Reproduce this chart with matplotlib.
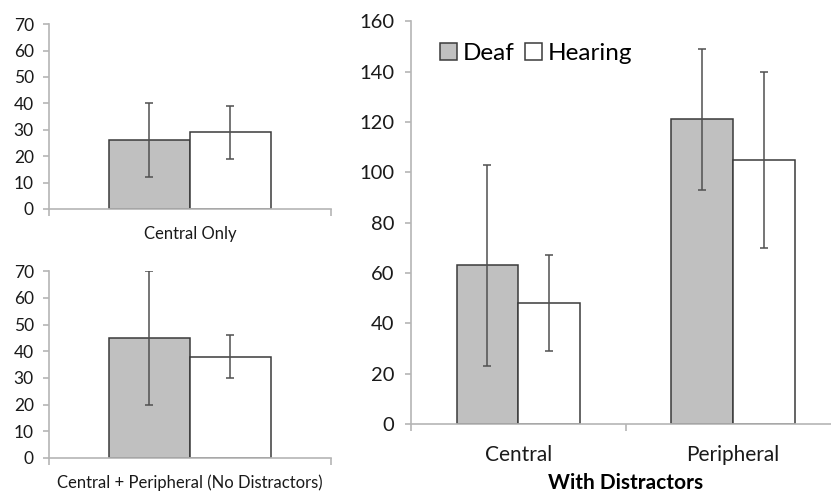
import matplotlib.pyplot as plt
import numpy as np

plt.rcParams['font.family'] = ['Lato', 'DejaVu Sans']

groups = ["Deaf", "Hearing"]
deaf_color = "#c0c0c0"
hear_color = "#ffffff"

# small panels
central_only = [26, 29]
central_only_err = [14, 10]
central_periph = [45, 38]
central_periph_err = [25, 8]

# big panel
distr_cats = ["Central", "Peripheral"]
distr_deaf = [63, 121]
distr_deaf_err = [40, 28]
distr_hear = [48, 105]
distr_hear_err = [19, 35]

edge = "#3a3a3a"
axis_col = "#b5b5b5"
err_kw = dict(ecolor="#505050", elinewidth=1.1, capsize=3, capthick=1.1)
bw = 0.288


def style(ax, tick_size, pad):
    for s in ["top", "right"]:
        ax.spines[s].set_visible(False)
    for s in ["left", "bottom"]:
        ax.spines[s].set_color(axis_col)
        ax.spines[s].set_linewidth(1.2)
    ax.tick_params(axis="y", colors=axis_col, labelcolor="#1a1a1a",
                   labelsize=tick_size, length=4, width=1.2, pad=pad)
    ax.tick_params(axis="x", which="major", length=0, labelcolor="#1a1a1a")
    ax.tick_params(axis="x", which="minor", colors=axis_col, length=5, width=1.2)


fig = plt.figure(figsize=(8.31, 4.94), dpi=100)

# top-left
ax1 = fig.add_axes([0.059, 0.577, 0.339, 0.374])
ax1.bar(-bw / 2, central_only[0], bw, yerr=central_only_err[0], color=deaf_color,
        edgecolor=edge, linewidth=1.1, error_kw=err_kw)
ax1.bar(bw / 2, central_only[1], bw, yerr=central_only_err[1], color=hear_color,
        edgecolor=edge, linewidth=1.1, error_kw=err_kw)
ax1.set_xlim(-0.5, 0.5)
ax1.set_ylim(0, 70)
ax1.set_yticks(np.arange(0, 71, 10))
ax1.set_xticks([0])
ax1.set_xticklabels(["Central Only"], fontsize=12)
ax1.set_xticks([-0.5, 0.5], minor=True)
style(ax1, 12.5, 7)
ax1.tick_params(axis="x", which="major", pad=12)

# bottom-left
ax2 = fig.add_axes([0.059, 0.073, 0.339, 0.378])
ax2.bar(-bw / 2, central_periph[0], bw, yerr=central_periph_err[0], color=deaf_color,
        edgecolor=edge, linewidth=1.1, error_kw=err_kw)
ax2.bar(bw / 2, central_periph[1], bw, yerr=central_periph_err[1], color=hear_color,
        edgecolor=edge, linewidth=1.1, error_kw=err_kw)
ax2.set_xlim(-0.5, 0.5)
ax2.set_ylim(0, 70)
ax2.set_yticks(np.arange(0, 71, 10))
ax2.set_xticks([0])
ax2.set_xticklabels(["Central + Peripheral (No Distractors)"], fontsize=12)
ax2.set_xticks([-0.5, 0.5], minor=True)
style(ax2, 12.5, 7)
ax2.tick_params(axis="x", which="major", pad=12)

# right panel
ax3 = fig.add_axes([0.4946, 0.142, 0.517, 0.815])
x = np.arange(len(distr_cats))
ax3.bar(x - bw / 2, distr_deaf, bw, yerr=distr_deaf_err, color=deaf_color,
        edgecolor=edge, linewidth=1.1, error_kw=err_kw, label=groups[0])
ax3.bar(x + bw / 2, distr_hear, bw, yerr=distr_hear_err, color=hear_color,
        edgecolor=edge, linewidth=1.1, error_kw=err_kw, label=groups[1])
ax3.set_xlim(-0.5, 1.5)
ax3.set_ylim(0, 160)
ax3.set_yticks(np.arange(0, 161, 20))
ax3.set_xticks(x)
ax3.set_xticklabels(distr_cats, fontsize=15)
ax3.set_xticks([-0.5, 0.5, 1.5], minor=True)
style(ax3, 14.5, 8)
ax3.tick_params(axis="x", which="major", pad=15)
ax3.set_xlabel("With Distractors", fontsize=15, fontweight="bold", labelpad=6)
ax3.legend(loc="upper left", bbox_to_anchor=(0.045, 0.97), ncol=2, frameon=False,
           fontsize=17.5, handlelength=0.7, handleheight=0.7, handletextpad=0.25,
           columnspacing=0.4, borderaxespad=0)

fig.savefig("out.png", dpi=100)
